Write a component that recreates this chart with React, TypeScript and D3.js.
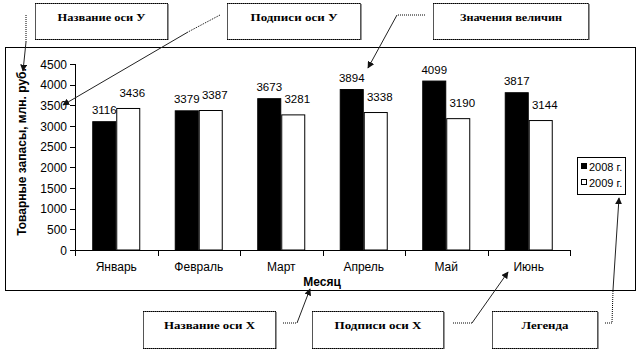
import React from "react";
import * as d3 from "d3";

const months = ["Январь", "Февраль", "Март", "Апрель", "Май", "Июнь"];
const seriesNames = ["2008 г.", "2009 г."];
const values2008 = [3116, 3379, 3673, 3894, 4099, 3817];
const values2009 = [3436, 3387, 3281, 3338, 3190, 3144];
const yTicks = [0, 500, 1000, 1500, 2000, 2500, 3000, 3500, 4000, 4500];
const yTitle = "Товарные запасы, млн. руб.";
const xTitle = "Месяц";

const calloutLabels = ["Название оси У", "Подписи оси У", "Значения величин", "Название оси X", "Подписи оси X", "Легенда"];

const W = 642;
const H = 350;
const FONT = "'Liberation Sans', Arial, sans-serif";
const SERIF = "'Liberation Serif', 'Times New Roman', serif";

// callout boxes: [x, y, w, h, textWidth]
const boxes: [number, number, number, number, number][] = [
  [35, 3, 132, 36, 88],
  [227, 3, 133, 36, 87],
  [433, 3, 155, 36, 102],
  [143, 311, 132, 37, 91],
  [312, 311, 131, 37, 87],
  [492, 311, 105, 37, 47],
];

// connectors: dotted polyline then solid arrow segment
const connectors: { dotted: [number, number][]; arrow: [number, number][] }[] = [
  { dotted: [[26, 15], [26, 42]], arrow: [[26, 42], [23, 71]] },
  { dotted: [[220, 15], [188, 32]], arrow: [[188, 32], [63, 105]] },
  { dotted: [[425, 15], [397, 15]], arrow: [[397, 15], [368, 68]] },
  { dotted: [[283, 323], [297, 323]], arrow: [[297, 323], [310, 289]] },
  { dotted: [[453, 323], [472, 323]], arrow: [[472, 323], [508, 272]] },
  { dotted: [[605, 323], [612, 323], [613, 290]], arrow: [[613, 290], [619, 198]] },
];

export default function App() {
  const x0 = d3.scaleBand<string>().domain(months).range([75, 570]).padding(0);
  const bw = 24;
  const x1 = d3
    .scaleBand<string>()
    .domain(seriesNames)
    .range([x0.bandwidth() / 2 - bw, x0.bandwidth() / 2 + bw]);
  const y = d3.scaleLinear().domain([0, 4500]).range([250, 64]);
  const series = [values2008, values2009];
  const fills = ["#000", "#fff"];
  const line = d3.line();

  const bandEdges = months.map((m) => x0(m) as number).concat([x0.range()[1]]);

  return (
    <svg width={W} height={H} style={{ position: "absolute", left: 0, top: 0, background: "#fff" }}>
      <defs>
        <marker id="ah" viewBox="0 0 10 10" refX="9" refY="5" markerWidth="7" markerHeight="7" orient="auto-start-reverse" markerUnits="userSpaceOnUse">
          <path d="M0,0 L10,5 L0,10 z" fill="#111" />
        </marker>
      </defs>
      <rect x={0} y={0} width={W} height={H} fill="#fff" />
      {/* chart frame */}
      <rect x={5.5} y={47.5} width={630} height={243} fill="none" stroke="#000" strokeWidth={1} />

      {/* bars */}
      {series.map((vals, si) =>
        vals.map((v, i) => {
          const bx = (x0(months[i]) as number) + (x1(seriesNames[si]) as number);
          return (
            <rect key={`b${si}-${i}`} x={bx + 0.5} y={y(v) + 0.5} width={x1.bandwidth() - 1} height={y(0) - y(v) - 0.5}
              fill={fills[si]} stroke="#000" strokeWidth={1} />
          );
        })
      )}

      {/* axes */}
      <line x1={75.5} y1={y(4500)} x2={75.5} y2={y(0)} stroke="#000" />
      {yTicks.map((t) => (
        <g key={`yt${t}`}>
          <line x1={70} x2={75.5} y1={Math.round(y(t)) + 0.5} y2={Math.round(y(t)) + 0.5} stroke="#000" />
          <text x={67} y={y(t) + 4.5} textAnchor="end" fontFamily={FONT} fontSize={12} fill="#000">{t}</text>
        </g>
      ))}
      <line x1={75} y1={250.5} x2={570} y2={250.5} stroke="#000" />
      {bandEdges.map((e, i) => (
        <line key={`xt${i}`} x1={Math.round(e) + 0.5} x2={Math.round(e) + 0.5} y1={250} y2={256} stroke="#000" />
      ))}
      {months.map((m) => (
        <text key={`xl${m}`} x={(x0(m) as number) + x0.bandwidth() / 2} y={271} textAnchor="middle" fontFamily={FONT} fontSize={12} fill="#000">{m}</text>
      ))}

      {/* data labels */}
      {series.map((vals, si) =>
        vals.map((v, i) => {
          const cx = (x0(months[i]) as number) + (x1(seriesNames[si]) as number) + x1.bandwidth() / 2 + (si === 1 ? 4 : 0);
          return (
            <text key={`dl${si}-${i}`} x={cx} y={y(v) - (si === 0 ? 7 : 11)} textAnchor="middle" fontFamily={FONT} fontSize={11.5} fill="#000">{v}</text>
          );
        })
      )}

      {/* axis titles */}
      <text transform={`translate(26,152) rotate(-90)`} textAnchor="middle" fontFamily={FONT} fontSize={12} fontWeight="bold" fill="#000">{yTitle}</text>
      <text x={322} y={286} textAnchor="middle" fontFamily={FONT} fontSize={12} fontWeight="bold" fill="#000">{xTitle}</text>

      {/* legend */}
      <rect x={577.5} y={157.5} width={48} height={37} fill="#fff" stroke="#000" />
      {seriesNames.map((s, i) => (
        <g key={`lg${i}`}>
          <rect x={581.5} y={163.5 + i * 16} width={5} height={5} fill={fills[i]} stroke="#000" />
          <text x={589} y={170.5 + i * 16} fontFamily={FONT} fontSize={11} fill="#000">{s}</text>
        </g>
      ))}

      {/* callout boxes */}
      {boxes.map(([bx, by, w, h, tw], i) => (
        <g key={`cb${i}`}>
          <rect x={bx + 0.5} y={by + 0.5} width={w} height={h} fill="#fff" stroke="#555" strokeWidth={1} />
          <line x1={bx} x2={bx + w + 1} y1={by + 0.5} y2={by + 0.5} stroke="#000" strokeDasharray="1,1" />
          <line x1={bx} x2={bx + w + 1} y1={by + h + 0.5} y2={by + h + 0.5} stroke="#000" strokeDasharray="1,1" />
          <line x1={bx + w + 1.5} x2={bx + w + 1.5} y1={by + 1} y2={by + h + 1} stroke="#999" />
          <text x={bx + w / 2 + 0.5} y={by + 18} textAnchor="middle" fontFamily={SERIF} fontSize={10.5} fontWeight="bold"
            textLength={tw} lengthAdjust="spacingAndGlyphs" fill="#000">{calloutLabels[i]}</text>
        </g>
      ))}

      {/* connectors */}
      {connectors.map((c, i) => (
        <g key={`cn${i}`}>
          <path d={line(c.dotted) as string} fill="none" stroke="#000" strokeWidth={1} strokeDasharray="1,1" />
          <path d={line(c.arrow) as string} fill="none" stroke="#222" strokeWidth={1} markerEnd="url(#ah)" />
        </g>
      ))}
    </svg>
  );
}
